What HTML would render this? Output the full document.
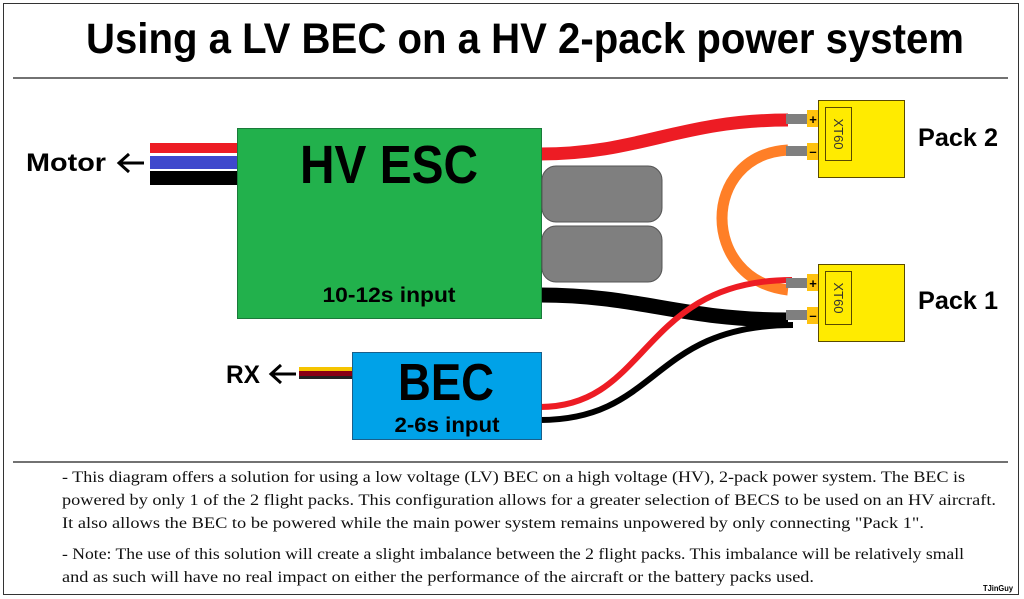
<!DOCTYPE html>
<html><head><meta charset="utf-8"><style>
html,body{margin:0;padding:0;background:#fff;}
svg{display:block;}
</style></head><body>
<svg width="1024" height="599" viewBox="0 0 1024 599" xmlns="http://www.w3.org/2000/svg" font-family="Liberation Sans, sans-serif">
<rect x="0" y="0" width="1024" height="599" fill="#fff"/>
<rect x="3.5" y="3.5" width="1015" height="591" fill="none" stroke="#333" stroke-width="1"/>
<text x="525" y="53" font-size="43" font-weight="bold" text-anchor="middle" textLength="878" lengthAdjust="spacingAndGlyphs">Using a LV BEC on a HV 2-pack power system</text>
<line x1="13" y1="78" x2="1008" y2="78" stroke="#444" stroke-width="1.5"/>

<path d="M540 154 C 640 154, 680 120, 788 120" stroke="#ed1c24" stroke-width="13" fill="none"/>
<path d="M788 150 C 700 155, 700 280, 788 290" stroke="#ff7f27" stroke-width="11" fill="none"/>
<path d="M540 295 C 640 295, 680 320, 788 320" stroke="#000" stroke-width="15" fill="none"/>
<path d="M540 407 C 650 407, 640 280, 792 280" stroke="#ed1c24" stroke-width="6" fill="none"/>
<path d="M540 420 C 660 420, 650 325, 793 325" stroke="#000" stroke-width="6" fill="none"/>

<rect x="150" y="143" width="88" height="10" fill="#ed1c24"/>
<rect x="150" y="156" width="88" height="13" fill="#3f48cc"/>
<rect x="150" y="171" width="88" height="14" fill="#000"/>
<text x="26" y="171" font-size="25" font-weight="bold" textLength="80" lengthAdjust="spacingAndGlyphs">Motor</text>
<path d="M144 163 H119 M129 154 L119 163 L129 172" stroke="#000" stroke-width="3" fill="none"/>

<rect x="237.5" y="128.5" width="304" height="190" fill="#22b14c" stroke="#1a7a3a" stroke-width="1"/>
<text x="389" y="183" font-size="54" font-weight="bold" text-anchor="middle" textLength="178" lengthAdjust="spacingAndGlyphs">HV ESC</text>
<text x="389" y="302" font-size="21" font-weight="bold" text-anchor="middle" textLength="133" lengthAdjust="spacingAndGlyphs">10-12s input</text>

<rect x="542" y="166" width="120" height="56" rx="14" fill="#7f7f7f" stroke="#555" stroke-width="1"/>
<rect x="542" y="226" width="120" height="56" rx="14" fill="#7f7f7f" stroke="#555" stroke-width="1"/>

<rect x="299" y="367" width="54" height="4" fill="#f5c400"/>
<rect x="299" y="371" width="54" height="5" fill="#880015"/>
<rect x="299" y="376" width="54" height="3" fill="#222"/>
<text x="226" y="383" font-size="25" font-weight="bold" textLength="34" lengthAdjust="spacingAndGlyphs">RX</text>
<path d="M296 374 H271 M281 365 L271 374 L281 383" stroke="#000" stroke-width="3" fill="none"/>

<rect x="352.5" y="352.5" width="189" height="87" fill="#00a2e8" stroke="#1a5f8a" stroke-width="1"/>
<text x="446" y="400" font-size="52" font-weight="bold" text-anchor="middle" textLength="96" lengthAdjust="spacingAndGlyphs">BEC</text>
<text x="447" y="432" font-size="21" font-weight="bold" text-anchor="middle" textLength="105" lengthAdjust="spacingAndGlyphs">2-6s input</text>

<g>
<rect x="786" y="114" width="24" height="10" fill="#7f7f7f"/>
<rect x="786" y="146" width="24" height="10" fill="#7f7f7f"/>
<rect x="807" y="110" width="13" height="17" fill="#ffc20e"/>
<rect x="807" y="143" width="13" height="17" fill="#ffc20e"/>
<text x="813" y="124" font-size="13" font-weight="bold" text-anchor="middle">+</text>
<text x="813" y="156" font-size="13" font-weight="bold" text-anchor="middle">–</text>
<rect x="818.5" y="100.5" width="86" height="77" fill="#ffeb00" stroke="#5a4a00" stroke-width="1"/>
<rect x="825.5" y="107.5" width="26" height="53" fill="none" stroke="#5a4a00" stroke-width="1"/>
<text transform="translate(834,134) rotate(90)" font-size="13" text-anchor="middle" fill="#333">XT60</text>
</g>
<g transform="translate(0,164)">
<rect x="786" y="114" width="24" height="10" fill="#7f7f7f"/>
<rect x="786" y="146" width="24" height="10" fill="#7f7f7f"/>
<rect x="807" y="110" width="13" height="17" fill="#ffc20e"/>
<rect x="807" y="143" width="13" height="17" fill="#ffc20e"/>
<text x="813" y="124" font-size="13" font-weight="bold" text-anchor="middle">+</text>
<text x="813" y="156" font-size="13" font-weight="bold" text-anchor="middle">–</text>
<rect x="818.5" y="100.5" width="86" height="77" fill="#ffeb00" stroke="#5a4a00" stroke-width="1"/>
<rect x="825.5" y="107.5" width="26" height="53" fill="none" stroke="#5a4a00" stroke-width="1"/>
<text transform="translate(834,134) rotate(90)" font-size="13" text-anchor="middle" fill="#333">XT60</text>
</g>
<text x="918" y="146" font-size="25" font-weight="bold" textLength="80" lengthAdjust="spacingAndGlyphs">Pack 2</text>
<text x="918" y="309" font-size="25" font-weight="bold" textLength="80" lengthAdjust="spacingAndGlyphs">Pack 1</text>

<line x1="13" y1="462" x2="1008" y2="462" stroke="#444" stroke-width="1.5"/>
<g font-family="Liberation Serif, serif" font-size="16" fill="#111">
<text x="62" y="482" textLength="903" lengthAdjust="spacingAndGlyphs">- This diagram offers a solution for using a low voltage (LV) BEC on a high voltage (HV), 2-pack power system. The BEC is</text>
<text x="62" y="505" textLength="934" lengthAdjust="spacingAndGlyphs">powered by only 1 of the 2 flight packs. This configuration allows for a greater selection of BECS to be used on an HV aircraft.</text>
<text x="62" y="528" textLength="862" lengthAdjust="spacingAndGlyphs">It also allows the BEC to be powered while the main power system remains unpowered by only connecting "Pack 1".</text>
<text x="62" y="559" textLength="902" lengthAdjust="spacingAndGlyphs">- Note: The use of this solution will create a slight imbalance between the 2 flight packs. This imbalance will be relatively small</text>
<text x="62" y="582" textLength="752" lengthAdjust="spacingAndGlyphs">and as such will have no real impact on either the performance of the aircraft or the battery packs used.</text>
</g>
<text x="983" y="591" font-size="8" font-weight="bold" textLength="30" lengthAdjust="spacingAndGlyphs">TJinGuy</text>
</svg>
</body></html>
